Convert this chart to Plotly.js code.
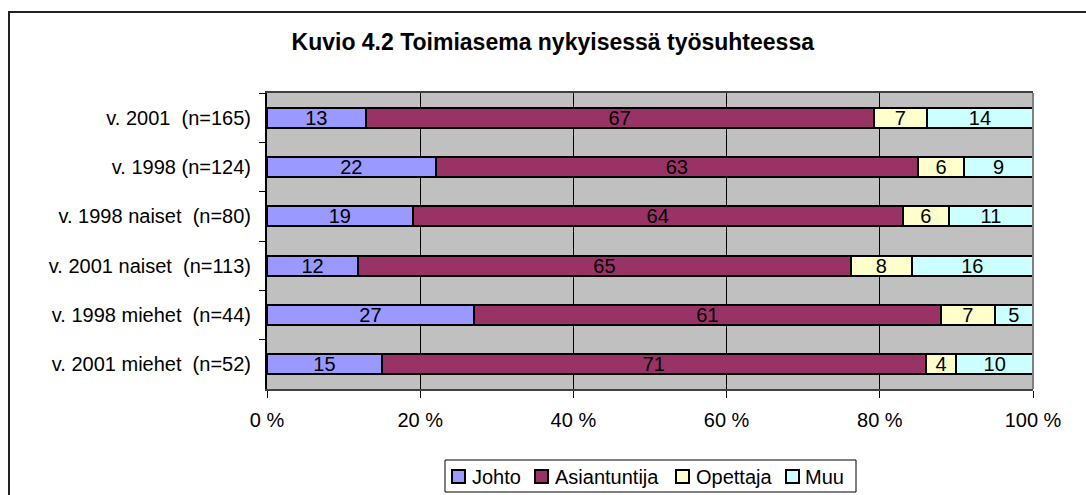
<!DOCTYPE html>
<html>
<head>
<meta charset="utf-8">
<script src="https://cdn.plot.ly/plotly-3.0.1.min.js"></script>
<style>
html,body{margin:0;padding:0;background:#fff;overflow:hidden;}
#frame{position:absolute;left:8px;top:11px;width:1200px;height:600px;border-left:2px solid #222;border-top:2px solid #222;pointer-events:none;z-index:5;}
#chart{position:absolute;left:0;top:0;width:1086px;height:495px;}
</style>
</head>
<body>
<div id="chart"></div>
<div id="frame"></div>
<script>
var categories = [
  "v. 2001\u00a0\u00a0(n=165)",
  "v. 1998 (n=124)",
  "v. 1998 naiset\u00a0\u00a0(n=80)",
  "v. 2001 naiset\u00a0\u00a0(n=113)",
  "v. 1998 miehet\u00a0\u00a0(n=44)",
  "v. 2001 miehet\u00a0\u00a0(n=52)"
];
var johto        = [13, 22, 19, 12, 27, 15];
var asiantuntija = [67, 63, 64, 65, 61, 71];
var opettaja     = [7, 6, 6, 8, 7, 4];
var muu          = [14, 9, 11, 16, 5, 10];
var seriesNames  = ["Johto", "Asiantuntija", "Opettaja", "Muu"];
var seriesColors = ["#9999FF", "#993366", "#FFFFCC", "#CCFFFF"];
var xTickVals = [0, 20, 40, 60, 80, 100];
var xTickText = ["0 %", "20 %", "40 %", "60 %", "80 %", "100 %"];

var FONT = 'Liberation Sans, Arial, sans-serif';
var seriesData = [johto, asiantuntija, opettaja, muu];
var traces = seriesData.map(function(vals, i){
  return {
    type: 'bar',
    orientation: 'h',
    name: seriesNames[i],
    y: categories,
    x: vals,
    text: vals.map(String),
    textposition: 'inside',
    insidetextanchor: 'middle',
    textangle: 0,
    constraintext: 'none',
    insidetextfont: {family: FONT, size: 20, color: '#000'},
    marker: {color: seriesColors[i], line: {color: '#000', width: 2}},
    hoverinfo: 'none',
    showlegend: false
  };
});

// plot area in pixels (for placing the custom legend box)
var PL = 267, PR = 1033, PT = 93, PB = 389;
function px(x){ return (x - PL) / (PR - PL); }
function py(y){ return (PB - y) / (PB - PT); }

// legend layout (pixel positions of the swatches and labels)
var legSwatchX = [452, 535, 676, 786];
var legTextX   = [470, 553, 694, 803];
var legTop = 460, legBottom = 492, legLeft = 445, legRight = 856;
var legMid = 476.5;

var shapes = [
  {type: 'line', xref: 'paper', yref: 'paper', x0: 1, x1: 1, y0: 0, y1: 1,
   line: {color: '#808080', width: 2}, layer: 'above'},
  {type: 'rect', xref: 'paper', yref: 'paper',
   x0: px(legLeft), x1: px(legRight), y0: py(legBottom), y1: py(legTop),
   line: {color: '#000', width: 1}, fillcolor: '#fff', layer: 'above'}
];
var annotations = [];
seriesNames.forEach(function(name, i){
  shapes.push({type: 'rect', xref: 'paper', yref: 'paper',
    x0: px(legSwatchX[i]), x1: px(legSwatchX[i] + 13),
    y0: py(legMid + 6.5), y1: py(legMid - 6.5),
    line: {color: '#000', width: 2}, fillcolor: seriesColors[i], layer: 'above'});
  annotations.push({xref: 'paper', yref: 'paper',
    x: px(legTextX[i]), y: py(legMid), xanchor: 'left', yanchor: 'middle',
    text: name, showarrow: false, font: {family: FONT, size: 20, color: '#000'}});
});

var layout = {
  width: 1086, height: 495,
  margin: {l: PL, r: 1086 - PR, t: PT, b: 495 - PB, pad: 0, autoexpand: false},
  paper_bgcolor: '#fff',
  plot_bgcolor: '#C0C0C0',
  barmode: 'stack',
  barnorm: 'percent',
  bargap: 0.59,
  uniformtext: {mode: 'show', minsize: 20},
  font: {family: FONT, size: 20, color: '#000'},
  title: {
    text: '<b>Kuvio 4.2 Toimiasema nykyisessä työsuhteessa</b>',
    font: {family: FONT, size: 23, color: '#000'},
    xref: 'container', x: 0.509, xanchor: 'center',
    yref: 'container', y: 1 - 42/495, yanchor: 'middle'
  },
  xaxis: {
    range: [0, 100],
    tickvals: xTickVals, ticktext: xTickText,
    showgrid: true, gridcolor: '#000', gridwidth: 1,
    zeroline: false,
    showline: true, linecolor: '#404040', linewidth: 2, mirror: true,
    ticks: 'outside', ticklen: 7, tickcolor: '#000', tickwidth: 1,
    tickfont: {size: 20},
    ticklabelstandoff: 5,
    fixedrange: true
  },
  yaxis: {
    type: 'category',
    autorange: 'reversed',
    showgrid: false, zeroline: false,
    showline: true, linecolor: '#000', linewidth: 2,
    ticks: 'outside', ticklen: 6, tickcolor: '#000', tickwidth: 1,
    tickson: 'boundaries',
    tickfont: {size: 20},
    ticklabelstandoff: 10,
    fixedrange: true
  },
  shapes: shapes,
  annotations: annotations,
  showlegend: false
};

Plotly.newPlot('chart', traces, layout, {staticPlot: true, displayModeBar: false});
</script>
</body>
</html>
